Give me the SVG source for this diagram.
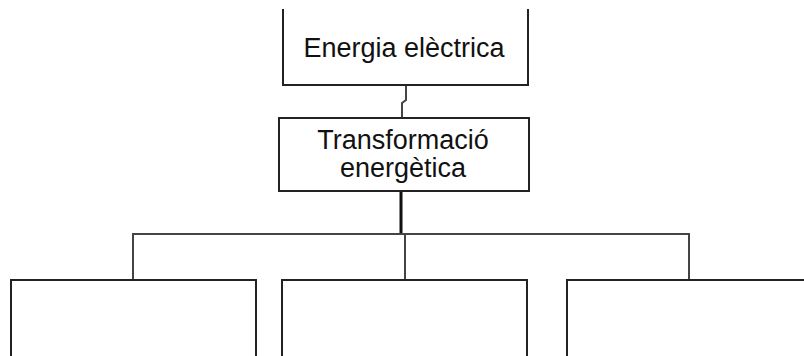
<svg xmlns="http://www.w3.org/2000/svg" width="804" height="356" viewBox="0 0 804 356">
<style>
.box{fill:#fff;stroke:#222;stroke-width:2}
.lbl{font-family:"Liberation Sans",Arial,sans-serif;font-size:27px;fill:#111;text-anchor:middle}
.con{fill:none;stroke:#444;stroke-width:2}
.thick{fill:none;stroke:#111;stroke-width:3}
</style>
<rect width="804" height="356" fill="#fff"/>
<g id="connectors">
<polyline class="con" points="406,85 406,100 402,103 402,118"/>
<polyline class="thick" points="401,191 401,234"/>
<polyline class="con" points="133,280 133,234 689,234 689,280"/>
<line class="con" x1="405" y1="234" x2="405" y2="280"/>
</g>
<g id="n1">
<polyline class="box" points="283,9 283,85 528,85 528,9"/>
<text class="lbl" x="404" y="57">Energia elèctrica</text>
</g>
<g id="n2">
<rect class="box" x="279" y="118" width="250" height="73"/>
<text class="lbl" x="403" y="149">Transformació</text>
<text class="lbl" x="403" y="177">energètica</text>
</g>
<g id="n3">
<polyline class="box" points="11,357 11,280 256,280 256,357"/>
</g>
<g id="n4">
<polyline class="box" points="282,357 282,280 527,280 527,357"/>
</g>
<g id="n5">
<polyline class="box" points="567,357 567,280 806,280"/>
</g>
</svg>
